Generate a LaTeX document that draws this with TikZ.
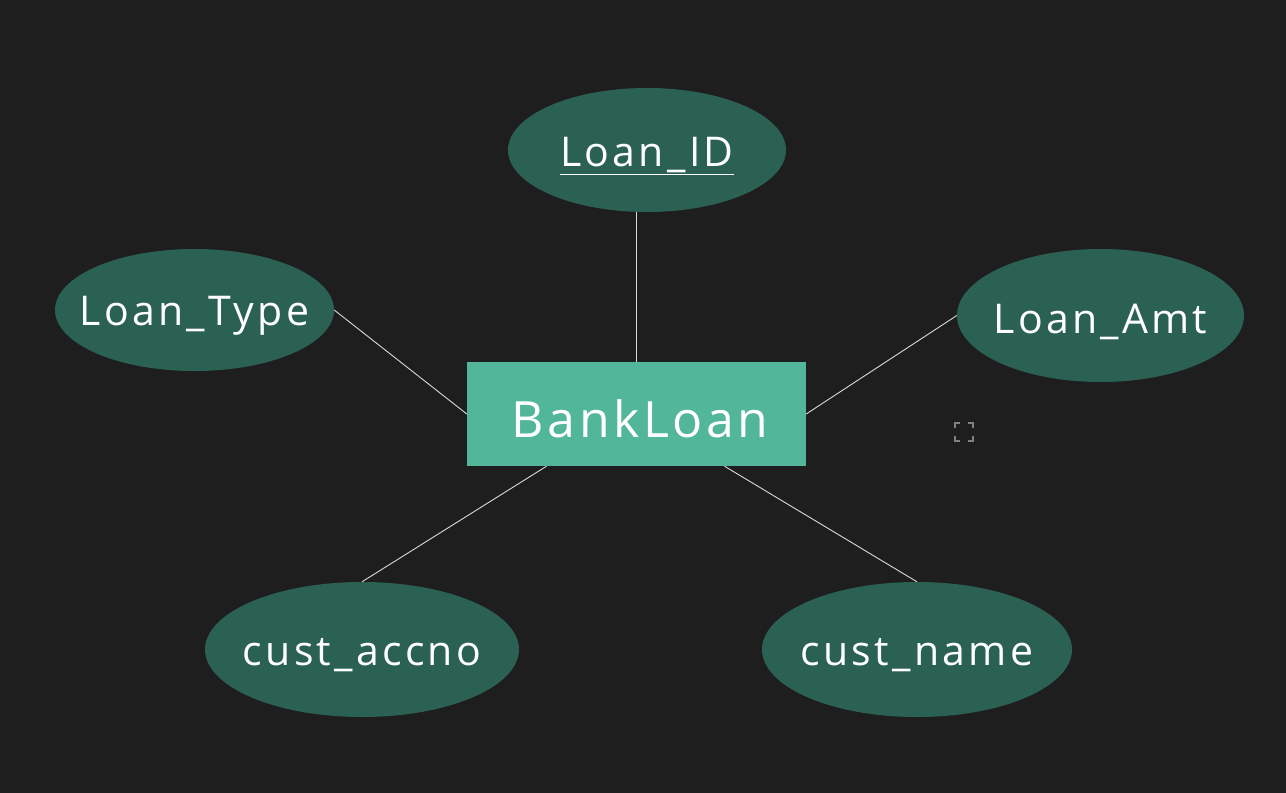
\documentclass[tikz,border=0pt]{standalone}
\usepackage{fontspec}
\setmainfont{Open Sans}[LetterSpace=8]
\usetikzlibrary{calc,shapes.geometric}
\definecolor{bgdark}{HTML}{1E1E1E}
\definecolor{attrgreen}{HTML}{2B6153}
\definecolor{entgreen}{HTML}{52B69A}
\def\attrfont{\fontsize{41}{49}\selectfont}

\begin{document}
\begin{tikzpicture}[x=1pt, y=-1pt,
		attr/.style={ellipse, fill=attrgreen, draw=none, inner sep=0pt},
		attrtext/.style={anchor=base, yshift=-6pt, inner sep=0pt, text=white, font=\attrfont},
		entity/.style={rectangle, fill=entgreen, draw=none, inner sep=0pt},
		link/.style={draw=white!85!black, line width=0.9pt}]
			%%%%% START %%%%%
			
			\fill[bgdark] (0, 0) rectangle (1286, 793);
			\useasboundingbox (0, 0) rectangle (1286, 793);
			
			\node[entity, minimum width=339, minimum height=104,
				label={[anchor=base, yshift=-5pt, xshift=3.5pt, inner sep=0pt, text=white, font=\fontsize{50}{60}\selectfont\addfontfeature{LetterSpace=7}]center:BankLoan}] (bank) at (636.5, 414) {};
			
			\node[attr, minimum width=278, minimum height=124, label={[attrtext]center:\underline{Loan\_ID}}] (id) at (647, 150) {};
			\node[attr, minimum width=279, minimum height=122, label={[attrtext]center:Loan\_Type}] (type) at (194.5, 310) {};
			\node[attr, minimum width=287, minimum height=133, label={[attrtext]center:Loan\_Amt}] (amt) at (1100.5, 315.5) {};
			\node[attr, minimum width=314, minimum height=135, label={[attrtext]center:cust\_accno}] (accno) at (362, 649.5) {};
			\node[attr, minimum width=310, minimum height=135, label={[attrtext]center:cust\_name}] (name) at (917, 649.5) {};
			
			\draw[link] (bank.north) -- (bank.north |- id.south);
			\draw[link] (type.east) -- (bank.west);
			\draw[link] (amt.west) -- (bank.east);
			\draw[link] (accno.north) -- ([xshift=-90]bank.south);
			\draw[link] (name.north) -- ([xshift=88]bank.south);
			
			% corner marks
			\coordinate (mark) at (964, 432);
			\draw[gray, line width=1.2pt] ($(mark)+(-9,-4)$) -- ++(0,-5) -- ++(5,0);
			\draw[gray, line width=1.2pt] ($(mark)+(9,-4)$) -- ++(0,-5) -- ++(-5,0);
			\draw[gray, line width=1.2pt] ($(mark)+(-9,4)$) -- ++(0,5) -- ++(5,0);
			\draw[gray, line width=1.2pt] ($(mark)+(9,4)$) -- ++(0,5) -- ++(-5,0);
			
			%%%%% END %%%%%
		\end{tikzpicture}
\end{document}
